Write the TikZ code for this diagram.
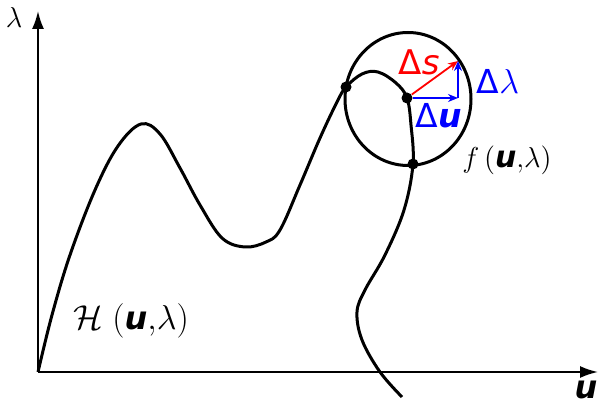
\documentclass[tikz,border=0pt]{standalone}
\usepackage{fontspec}
\newfontfamily\dv{DejaVu Sans}
\usetikzlibrary{arrows.meta,shapes.geometric}
\newcommand{\bu}{\text{\dv\bfseries\itshape u}}
\usepackage{amsmath}
\begin{document}
\begin{tikzpicture}[x=0.5pt,y=-0.5pt,
  axis/.style={line width=1pt,-{Latex[length=9pt,width=6pt]}},
  curveline/.style={line width=1.5pt},
  dotnode/.style={circle,fill=black,inner sep=0pt,minimum size=5.5pt},
  vec/.style={line width=0.9pt,-{Stealth[length=5pt,width=4pt]}},
  lbl/.style={inner sep=0pt}]
\useasboundingbox (0,0) rectangle (600,405);
\coordinate (O) at (38,372);
\coordinate (ytop) at (38,11);
\coordinate (xend) at (598,372);
\draw[axis] (O) -- (ytop);
\draw[axis] (O) -- (xend);
\node[ellipse,draw,line width=1.5pt,minimum width=63pt,minimum height=66.5pt,inner sep=0pt] (circ) at (408,99) {};
\draw[curveline] plot[smooth,tension=0.6] coordinates {(38,372) (52,315) (70,255) (95,190) (118,146) (141,124) (160,134) (180,168) (200,205) (222,238) (245,247) (266,242) (280,230) (300,185) (320,138) (337,102) (346,87) (362,74) (378,72) (396,83) (407,98) (411,125) (413,164) (404,210) (385,255) (365,290) (357,312) (362,340) (380,372) (402,397)};
\node[dotnode] (p1) at (346,87) {};
\node[dotnode] (p2) at (407,98) {};
\node[dotnode] (p3) at (413,164) {};
\coordinate (du) at (458,98);
\coordinate (ds) at (458,61);
\draw[vec,red] (p2) -- (ds);
\draw[vec,blue] (p2) -- (du);
\draw[vec,blue] (du) -- (ds);
\node[lbl,font=\fontsize{15}{18}\selectfont] (lam) at (14,18) {$\lambda$};
\node[lbl,font=\fontsize{16}{19}\selectfont] (ulab) at (586,390) {\dv\bfseries\itshape u};
\node[lbl,font=\fontsize{16}{19}\selectfont] (Hlab) at (131,321) {$\mathcal{H}\ (\bu,\!\lambda)$};
\node[lbl,font=\fontsize{15}{18}\selectfont] (flab) at (507,160) {$f\,(\bu,\!\lambda)$};
\node[lbl,font=\fontsize{17}{20}\selectfont,text=red] (dslab) at (419,62) {\dv Δ\itshape s};
\node[lbl,font=\fontsize{16.5}{19}\selectfont,text=blue] (dllab) at (498,81) {{\dv Δ}$\lambda$};
\node[lbl,font=\fontsize{16.5}{19}\selectfont,text=blue] (dulab) at (439,116) {\dv Δ\bfseries\itshape u};
\end{tikzpicture}
\end{document}
